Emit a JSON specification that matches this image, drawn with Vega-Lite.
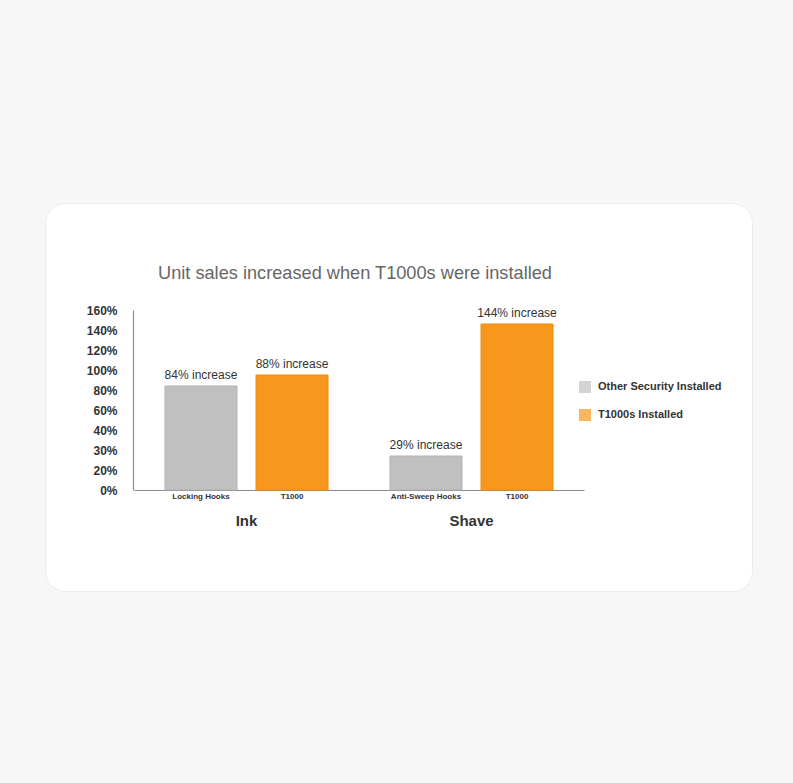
{
  "$schema": "https://vega.github.io/schema/vega-lite/v6.json",
  "autosize": {"type": "none"},
  "padding": {"left": 45, "top": 203, "right": 41, "bottom": 192},
  "width": 707,
  "height": 388,
  "background": "#f7f7f7",
  "config": {
    "font": "Liberation Sans",
    "view": {"fill": "white", "cornerRadius": 20, "stroke": "#ececec", "strokeWidth": 1},
    "axis": {"grid": false, "ticks": false, "domainColor": "#8c8c8c", "domainWidth": 1.2}
  },
  "title": {
    "text": "Unit sales increased when T1000s were installed",
    "anchor": "start",
    "frame": "group",
    "dx": 113,
    "offset": -80,
    "fontSize": 18.2,
    "fontWeight": "normal",
    "color": "#666666"
  },
  "data": {
    "values": [
      {"group": "Ink", "series": "Other Security Installed", "item": "Locking Hooks", "height": 84, "label": "84% increase"},
      {"group": "Ink", "series": "T1000s Installed", "item": "T1000", "height": 95, "label": "88% increase"},
      {"group": "Shave", "series": "Other Security Installed", "item": "Anti-Sweep Hooks", "height": 27, "label": "29% increase"},
      {"group": "Shave", "series": "T1000s Installed", "item": "T1000", "height": 146, "label": "144% increase"}
    ]
  },
  "encoding": {
    "x": {
      "field": "group",
      "type": "nominal",
      "scale": {"range": [89, 539], "paddingInner": 0, "paddingOuter": 0},
      "axis": {
        "title": null,
        "offset": -101,
        "labelAngle": 0,
        "labelFontSize": 15,
        "labelFontWeight": "bold",
        "labelColor": "#333333",
        "labelPadding": 23,
        "labelBaseline": "top"
      }
    },
    "xOffset": {
      "field": "series",
      "type": "nominal",
      "scale": {"paddingInner": 0.209, "paddingOuter": 0.34}
    }
  },
  "layer": [
    {
      "mark": {"type": "bar", "strokeWidth": 1},
      "encoding": {
        "y": {
          "field": "height",
          "type": "quantitative",
          "scale": {
            "domain": [0, 20, 30, 40, 60, 80, 100, 120, 140, 160],
            "range": [287, 267, 247, 227, 207, 187, 167, 147, 127, 107]
          },
          "axis": {
            "title": null,
            "offset": -88,
            "values": [0, 20, 30, 40, 60, 80, 100, 120, 140, 160],
            "labelExpr": "datum.value + '%'",
            "labelFontSize": 12,
            "labelFontWeight": "bold",
            "labelColor": "#333333",
            "labelPadding": 16
          }
        },
        "color": {
          "field": "series",
          "type": "nominal",
          "scale": {"domain": ["Other Security Installed", "T1000s Installed"], "range": ["#c0c0c0", "#f7971e"]},
          "legend": {
            "title": null,
            "orient": "none",
            "legendX": 534,
            "legendY": 178,
            "symbolType": "square",
            "symbolSize": 144,
            "symbolOpacity": 0.7,
            "symbolStrokeWidth": 0,
            "labelFontSize": 11,
            "labelFontWeight": "bold",
            "labelColor": "#333333",
            "labelOffset": 7,
            "rowPadding": 16
          }
        },
        "stroke": {
          "field": "series",
          "type": "nominal",
          "scale": {"domain": ["Other Security Installed", "T1000s Installed"], "range": ["#b2b2b2", "#f28d12"]},
          "legend": null
        }
      }
    },
    {
      "mark": {"type": "text", "dy": -11, "fontSize": 12, "color": "#333333"},
      "encoding": {
        "y": {"field": "height", "type": "quantitative"},
        "text": {"field": "label"}
      }
    },
    {
      "mark": {"type": "text", "dy": 7, "baseline": "middle", "fontSize": 8, "fontWeight": "bold", "color": "#333333"},
      "encoding": {
        "y": {"datum": 0, "type": "quantitative"},
        "text": {"field": "item"}
      }
    }
  ]
}
